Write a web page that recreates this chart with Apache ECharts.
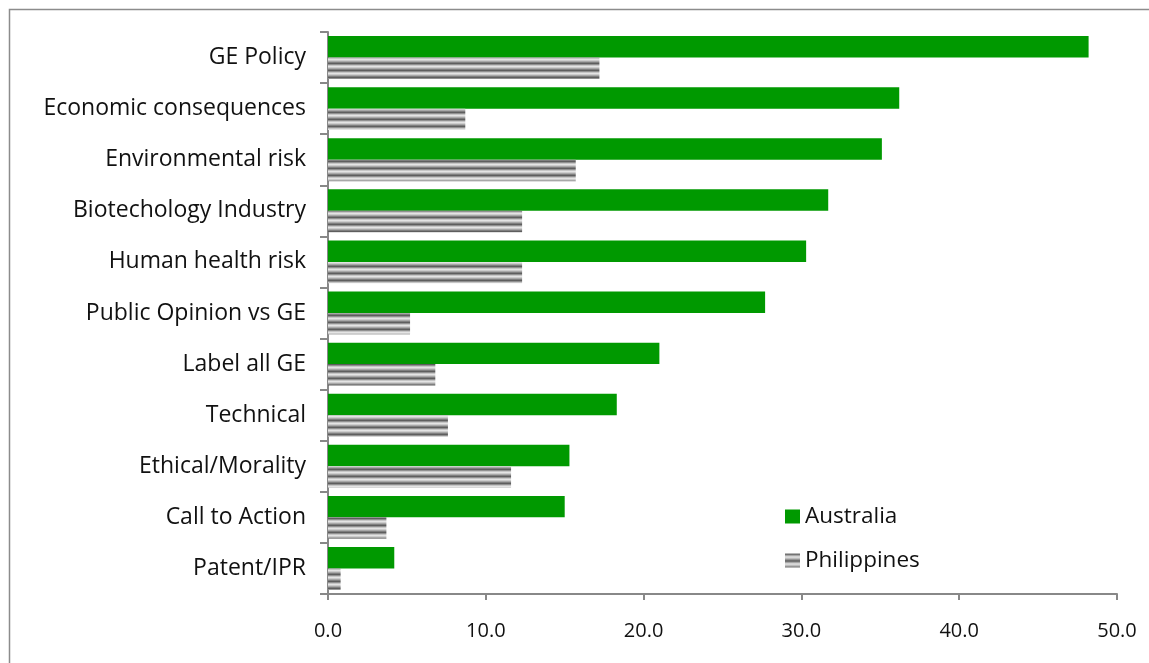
<!DOCTYPE html>
<html>
<head>
<meta charset="utf-8">
<script src="https://cdn.jsdelivr.net/npm/echarts@6/dist/echarts.min.js"></script>
<style>
  html, body { margin: 0; padding: 0; background: #fff; }
  #chart { width: 1149px; height: 663px; }
</style>
</head>
<body>
<div id="chart"></div>
<script>
// Topics in display order (top to bottom)
const categories = [
  'GE Policy', 'Economic consequences', 'Environmental risk', 'Biotechology Industry',
  'Human health risk', 'Public Opinion vs GE', 'Label all GE', 'Technical',
  'Ethical/Morality', 'Call to Action', 'Patent/IPR'
];
const australia = [48.2, 36.2, 35.1, 31.7, 30.3, 27.7, 21.0, 18.3, 15.3, 15.0, 4.2];
const philippines = [17.2, 8.7, 15.7, 12.3, 12.3, 5.2, 6.8, 7.6, 11.6, 3.7, 0.8];
const xTicks = { min: 0, max: 50, interval: 10 };

// Horizontal gray stripe fill
function stripePattern() {
  const rows = ['#5e5e5e', '#909090', '#c6c6c6', '#e4e4e4', '#cccccc', '#a8a8a8', '#7e7e7e'];
  const c = document.createElement('canvas');
  c.width = 4; c.height = rows.length;
  const ctx = c.getContext('2d');
  rows.forEach((col, i) => { ctx.fillStyle = col; ctx.fillRect(0, i, 4, 1); });
  return { image: c, repeat: 'repeat' };
}

const chart = echarts.init(document.getElementById('chart'));
const font = '"Open Sans", Lato, sans-serif';
chart.setOption({
  animation: false,
  backgroundColor: '#fff',
  graphic: [{
    type: 'rect', left: 7, top: 7,
    shape: { width: 1170, height: 700 },
    style: { fill: 'none', stroke: '#8c8c8c', lineWidth: 1.5 }
  }],
  grid: { left: 328, right: 32, top: 32, bottom: 69 },
  legend: {
    orient: 'vertical', left: 780, top: 500, itemGap: 21,
    itemWidth: 15, itemHeight: 14,
    textStyle: { fontFamily: font, fontSize: 22.5, color: '#111' },
    data: [{ name: 'Australia', icon: 'rect' }, { name: 'Philippines', icon: 'rect' }]
  },
  xAxis: {
    type: 'value', min: xTicks.min, max: xTicks.max, interval: xTicks.interval,
    axisLine: { show: true, lineStyle: { color: '#888', width: 2 } },
    axisTick: { show: true, length: 6, lineStyle: { color: '#888', width: 2 } },
    splitLine: { show: false },
    axisLabel: { formatter: v => v.toFixed(1), fontFamily: font, fontSize: 20, color: '#111', margin: 27 }
  },
  yAxis: {
    type: 'category', data: categories, inverse: true,
    axisLine: { show: true, lineStyle: { color: '#888', width: 2 } },
    axisTick: { show: true, length: 8, lineStyle: { color: '#888', width: 2 } },
    axisLabel: { fontFamily: font, fontSize: 23, color: '#111', margin: 22 }
  },
  series: [
    {
      name: 'Australia', type: 'bar', data: australia,
      barGap: '0%', barCategoryGap: '16%',
      itemStyle: { color: '#009900' }
    },
    {
      name: 'Philippines', type: 'bar', data: philippines,
      itemStyle: { color: stripePattern() }
    }
  ]
});
</script>
</body>
</html>
